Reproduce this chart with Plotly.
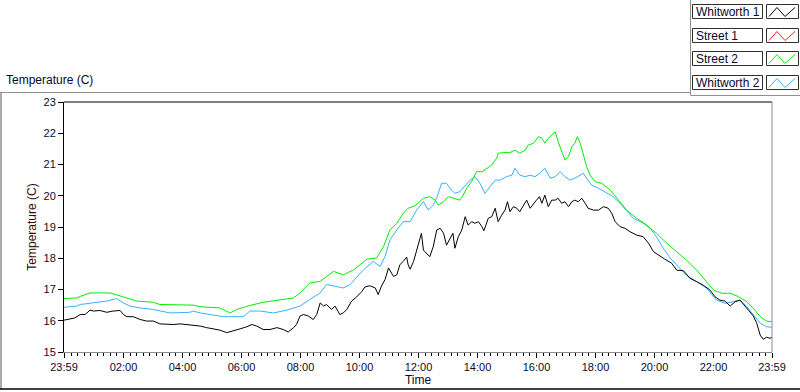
import plotly.graph_objects as go
import pandas as pd

# ---------------- data (minutes after 23:59 start, temperature in C) ----------------
start_time = "2013-01-01 23:59"

whit1_min = [0, 22, 33, 43, 53, 60, 73, 87, 100, 114, 121, 128, 141, 155, 168, 182, 195, 209, 222, 236,
             250, 263, 277, 290, 304, 317, 331, 344, 358, 372, 382, 392, 405, 419, 433, 446, 456, 467,
             473, 480, 487, 497, 507, 514, 521, 528, 534, 544, 551, 561, 568, 575, 585, 595, 606, 612,
             622, 633, 639, 646, 653, 660, 670, 677, 683, 690, 697, 700, 704, 711, 717, 721, 724, 727,
             731, 738, 744, 751, 758, 765, 772, 778, 785, 791, 795, 802, 809, 816, 822, 829, 836, 843,
             850, 854, 863, 870, 877, 883, 890, 897, 902, 907, 914, 921, 927, 934, 941, 948, 955, 961,
             967, 972, 978, 985, 992, 999, 1005, 1012, 1019, 1026, 1033, 1039, 1046, 1053, 1060, 1066,
             1077, 1087, 1097, 1107, 1114, 1121, 1131, 1141, 1151, 1165, 1178, 1189, 1199, 1209, 1222,
             1236, 1246, 1260, 1273, 1287, 1300, 1314, 1324, 1334, 1344, 1355, 1365, 1375, 1382, 1392,
             1402, 1409, 1416, 1422, 1429, 1436, 1440]
whit1_temp = [16.02, 16.09, 16.20, 16.20, 16.34, 16.31, 16.33, 16.27, 16.31, 16.33, 16.20, 16.13, 16.13,
              16.04, 15.99, 15.99, 15.90, 15.88, 15.88, 15.90, 15.88, 15.86, 15.83, 15.78, 15.75, 15.70,
              15.62, 15.67, 15.74, 15.81, 15.88, 15.83, 15.72, 15.72, 15.78, 15.72, 15.64, 15.78, 15.88,
              16.15, 16.20, 16.15, 16.04, 16.20, 16.57, 16.47, 16.52, 16.36, 16.47, 16.20, 16.25, 16.36,
              16.63, 16.76, 16.94, 17.08, 17.12, 17.05, 16.84, 17.12, 17.32, 17.69, 17.42, 17.47, 17.79,
              17.90, 18.04, 17.79, 17.65, 17.90, 18.22, 18.40, 18.59, 18.80, 18.26, 18.16, 18.05, 18.37,
              18.90, 18.96, 18.80, 18.42, 18.64, 18.80, 18.32, 18.69, 18.90, 19.33, 19.06, 19.17, 19.12,
              19.17, 19.01, 18.88, 19.28, 19.33, 19.60, 19.17, 19.38, 19.54, 19.81, 19.49, 19.65, 19.60,
              19.49, 19.70, 19.86, 19.60, 19.76, 19.86, 19.97, 19.76, 20.02, 19.65, 19.86, 19.86, 19.92,
              19.76, 19.81, 19.65, 19.81, 19.86, 19.81, 19.92, 19.76, 19.60, 19.54, 19.54, 19.65, 19.60,
              19.44, 19.17, 19.01, 18.96, 18.85, 18.74, 18.69, 18.48, 18.21, 18.10, 17.97, 17.84, 17.62,
              17.60, 17.36, 17.25, 17.14, 16.98, 16.77, 16.66, 16.63, 16.47, 16.61, 16.66, 16.54, 16.34,
              16.15, 15.92, 15.54, 15.41, 15.47, 15.44, 15.47]

street1_min = []
street1_temp = []

street2_min = [0, 26, 33, 53, 94, 104, 121, 148, 182, 195, 263, 277, 317, 338, 351, 378, 405, 439, 467,
               480, 500, 521, 534, 548, 568, 589, 602, 616, 636, 650, 663, 677, 690, 700, 714, 724, 731,
               744, 755, 761, 772, 782, 795, 805, 812, 819, 829, 839, 850, 860, 870, 880, 883, 894, 907,
               917, 927, 938, 944, 955, 965, 972, 978, 985, 992, 999, 1005, 1012, 1019, 1026, 1033, 1039,
               1044, 1050, 1056, 1063, 1070, 1080, 1094, 1111, 1128, 1144, 1165, 1185, 1205, 1226, 1246,
               1266, 1287, 1304, 1321, 1338, 1355, 1372, 1389, 1402, 1416, 1429, 1440]
street2_temp = [16.71, 16.73, 16.78, 16.89, 16.89, 16.84, 16.76, 16.63, 16.59, 16.52, 16.50, 16.45, 16.41,
                16.25, 16.36, 16.49, 16.59, 16.66, 16.73, 16.89, 17.21, 17.26, 17.42, 17.58, 17.47, 17.63,
                17.79, 17.97, 18.01, 18.38, 18.91, 19.12, 19.44, 19.60, 19.68, 19.84, 19.92, 19.97, 19.86,
                19.70, 19.81, 19.97, 19.92, 19.86, 20.02, 20.24, 20.45, 20.77, 20.77, 20.88, 20.98, 21.20,
                21.36, 21.38, 21.38, 21.46, 21.36, 21.46, 21.62, 21.68, 21.89, 21.84, 21.68, 21.84, 21.94,
                22.05, 21.73, 21.46, 21.14, 21.25, 21.57, 21.68, 21.89, 21.68, 21.36, 20.93, 20.66, 20.45,
                20.40, 20.18, 19.86, 19.54, 19.28, 19.06, 18.80, 18.48, 18.21, 17.94, 17.62, 17.30, 16.98,
                16.88, 16.88, 16.77, 16.61, 16.40, 16.13, 15.99, 15.97]

whit2_min = [0, 26, 33, 66, 87, 107, 121, 134, 155, 182, 216, 256, 263, 277, 311, 324, 365, 378, 399, 426,
             453, 480, 500, 521, 534, 555, 568, 582, 595, 609, 629, 643, 653, 663, 677, 690, 704, 717, 731,
             741, 751, 758, 768, 778, 788, 795, 805, 816, 826, 836, 846, 856, 866, 877, 887, 900, 911, 917,
             927, 938, 948, 958, 968, 978, 989, 999, 1009, 1019, 1029, 1039, 1050, 1056, 1063, 1073, 1087,
             1104, 1117, 1131, 1144, 1158, 1178, 1192, 1205, 1219, 1233, 1246, 1266, 1287, 1307, 1327,
             1344, 1361, 1375, 1389, 1402, 1416, 1429, 1440]
whit2_temp = [16.43, 16.47, 16.52, 16.60, 16.63, 16.71, 16.57, 16.47, 16.41, 16.36, 16.25, 16.27, 16.31,
              16.25, 16.17, 16.13, 16.13, 16.31, 16.31, 16.25, 16.34, 16.47, 16.68, 16.89, 17.16, 17.10,
              17.05, 17.16, 17.37, 17.63, 17.90, 17.74, 18.06, 18.59, 18.91, 19.17, 19.17, 19.54, 19.81,
              19.54, 19.70, 19.92, 20.40, 20.40, 20.18, 20.08, 20.13, 20.34, 20.50, 20.61, 20.40, 20.08,
              20.29, 20.50, 20.50, 20.61, 20.66, 20.88, 20.66, 20.61, 20.66, 20.61, 20.72, 20.88, 20.56,
              20.61, 20.77, 20.61, 20.50, 20.56, 20.66, 20.72, 20.56, 20.34, 20.24, 20.08, 19.97, 19.76,
              19.54, 19.28, 19.12, 18.96, 18.69, 18.32, 18.00, 17.78, 17.46, 17.25, 17.04, 16.66, 16.56,
              16.61, 16.66, 16.45, 16.18, 15.92, 15.81, 15.79]

series_names = ["Whitworth 1", "Street 1", "Street 2", "Whitworth 2"]
series_colors = ["#000000", "#ff2020", "#00ee00", "#33b2ff"]

x_tick_labels = ["23:59", "02:00", "04:00", "06:00", "08:00", "10:00", "12:00",
                 "14:00", "16:00", "18:00", "20:00", "22:00", "23:59"]
y_tick_vals = [15, 16, 17, 18, 19, 20, 21, 22, 23]

# ---------------- build ----------------
t0 = pd.Timestamp(start_time)
t_end = t0 + pd.Timedelta(days=1)
day2 = (t0 + pd.Timedelta(minutes=1)).strftime("%Y-%m-%d")


def to_times(mins):
    return [t0 + pd.Timedelta(minutes=m) for m in mins]


tick_vals = [t0] + [pd.Timestamp(day2 + " " + s) for s in x_tick_labels[1:-1]] + [t_end]

W, H = 800, 392
L, R, T, B = 64, 28, 102, 40
PW, PH = W - L - R, H - T - B


def px(xp):
    return (xp - L) / PW


def py(yp):
    return (H - B - yp) / PH


fig = go.Figure()
all_data = [(whit1_min, whit1_temp), (street1_min, street1_temp),
            (street2_min, street2_temp), (whit2_min, whit2_temp)]
# draw order: blue, green, red, black on top
for idx in [3, 2, 1, 0]:
    mins, temps = all_data[idx]
    fig.add_trace(go.Scatter(x=to_times(mins), y=temps, mode="lines", name=series_names[idx],
                             line=dict(color=series_colors[idx], width=1), showlegend=False,
                             hoverinfo="skip"))

FONT = "Liberation Sans, Arial, sans-serif"
TXT = "#0a0a28"

shapes = []
annotations = []

# plot frame: top black, right gray
shapes.append(dict(type="line", xref="paper", yref="paper", x0=0, x1=1, y0=1, y1=1,
                   line=dict(color="#000000", width=1)))
shapes.append(dict(type="line", xref="paper", yref="paper", x0=1, x1=1, y0=0, y1=1,
                   line=dict(color="#8c8c8c", width=1)))

# outer panel frame
shapes.append(dict(type="line", xref="paper", yref="paper", x0=px(0), x1=px(690.5), y0=py(92.5), y1=py(92.5),
                   line=dict(color="#909090", width=1)))
shapes.append(dict(type="line", xref="paper", yref="paper", x0=px(1), x1=px(1), y0=py(92.5), y1=py(389),
                   line=dict(color="#909090", width=1.5)))
shapes.append(dict(type="line", xref="paper", yref="paper", x0=px(0), x1=px(800), y0=py(389), y1=py(389),
                   line=dict(color="#000000", width=1.5)))
shapes.append(dict(type="line", xref="paper", yref="paper", x0=px(690.5), x1=px(690.5), y0=py(0), y1=py(95),
                   line=dict(color="#909090", width=1)))
shapes.append(dict(type="line", xref="paper", yref="paper", x0=px(690.5), x1=px(800), y0=py(95.5), y1=py(95.5),
                   line=dict(color="#909090", width=1)))

# legend
legend_tops = [4.5, 28.5, 51.5, 75.5]
for name, color, top in zip(series_names, series_colors, legend_tops):
    bh = 14
    shapes.append(dict(type="rect", xref="paper", yref="paper", x0=px(692.5), x1=px(762.5),
                       y0=py(top + bh), y1=py(top), line=dict(color="#303030", width=1),
                       fillcolor="white"))
    shapes.append(dict(type="rect", xref="paper", yref="paper", x0=px(766.5), x1=px(798.5),
                       y0=py(top + bh), y1=py(top), line=dict(color="#303030", width=1),
                       fillcolor="white"))
    pts = [(769, top + 12), (777, top + 3), (785, top + 12), (795, top + 3)]
    path = "M " + " L ".join(f"{px(a):.5f},{py(b):.5f}" for a, b in pts)
    shapes.append(dict(type="path", xref="paper", yref="paper", path=path,
                       line=dict(color=color, width=1)))
    annotations.append(dict(xref="paper", yref="paper", x=px(694), y=py(top + bh / 2 + 0.5),
                            xanchor="left", yanchor="middle", text=name, showarrow=False,
                            font=dict(family=FONT, size=12, color=TXT)))

# plot label top-left
annotations.append(dict(xref="paper", yref="paper", x=px(4), y=py(80), xanchor="left", yanchor="middle",
                        text="Temperature (C)", showarrow=False,
                        font=dict(family=FONT, size=12, color=TXT)))

fig.update_layout(
    width=W, height=H,
    margin=dict(l=L, r=R, t=T, b=B, autoexpand=False),
    paper_bgcolor="white", plot_bgcolor="white",
    showlegend=False,
    font=dict(family=FONT, size=11, color="#000000"),
    shapes=shapes, annotations=annotations,
    xaxis=dict(
        type="date", range=[t0, t_end], tickmode="array", tickvals=tick_vals, ticktext=x_tick_labels,
        ticks="outside", ticklen=5, tickcolor="#000000", tickwidth=1,
        showline=True, linecolor="#8c8c8c", linewidth=1, mirror=False,
        showgrid=False, zeroline=False, automargin=False,
        tickfont=dict(family=FONT, size=11, color=TXT),
        minor=dict(tickmode="linear", tick0=pd.Timestamp(day2 + " 02:00"), dtick=800000,
                   ticks="outside", ticklen=3, tickcolor="#000000", tickwidth=1, showgrid=False),
        title=dict(text="Time", standoff=1, font=dict(family=FONT, size=12, color=TXT)),
    ),
    yaxis=dict(
        range=[15, 23], tickmode="array", tickvals=y_tick_vals,
        ticks="outside", ticklen=5, tickcolor="#000000", tickwidth=1,
        showline=True, linecolor="#000000", linewidth=1, mirror=False,
        showgrid=False, zeroline=False, automargin=False,
        tickfont=dict(family=FONT, size=11, color=TXT),
        title=dict(text="Temperature (C)", standoff=4,
                   font=dict(family=FONT, size=12, color="#3a0a0a")),
    ),
)

fig.write_html("out.html", config={"displayModeBar": False},
               post_script="document.body.style.margin='0';document.body.style.overflow='hidden';")
